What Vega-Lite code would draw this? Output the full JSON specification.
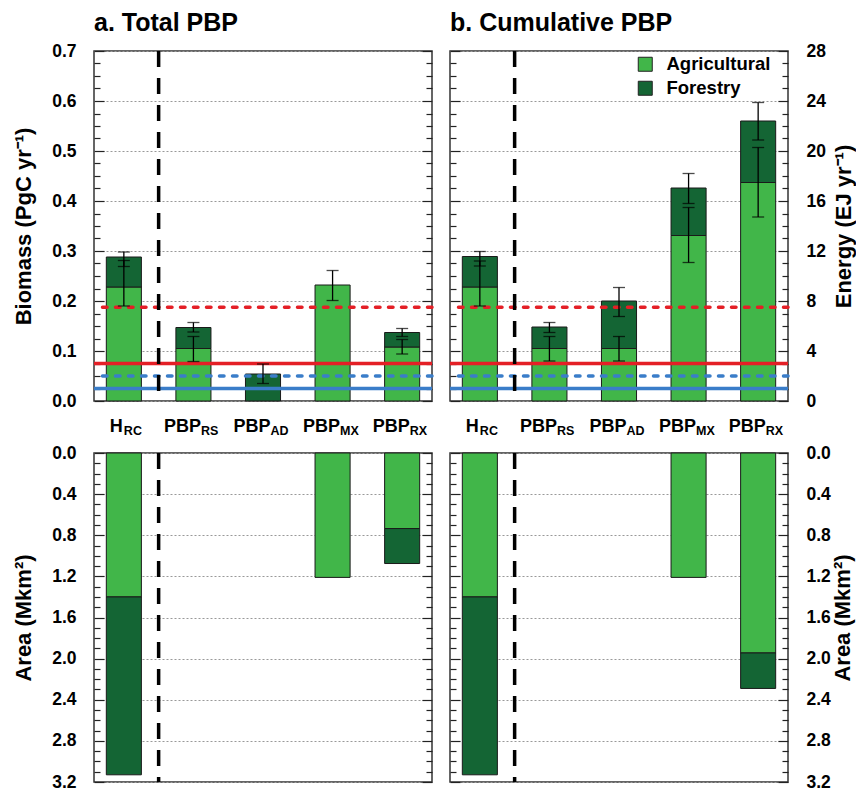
{
  "$schema": "https://vega.github.io/schema/vega-lite/v6.json",
  "background": "white",
  "padding": {"left": 11, "top": 10, "right": 0, "bottom": 0},
  "config": {
    "font": "Liberation Sans",
    "view": {"stroke": "#333", "strokeWidth": 1.5},
    "axis": {"domain": false, "tickColor": "#222", "tickWidth": 1.2, "labelFont": "Liberation Sans", "labelFontSize": 17.5, "labelFontWeight": "bold", "labelColor": "black", "labelPadding": 28, "labelOverlap": false, "labelFlush": false, "titleFont": "Liberation Sans", "titleFontSize": 22, "titleFontWeight": "bold", "titleColor": "black", "gridColor": "#999", "gridDash": [2, 2], "gridWidth": 1}
  },
  "datasets": {
    "bars": [
      {"panel": "total", "cat": "H_RC", "type": "Agricultural", "lo": 0, "hi": 0.228},
      {"panel": "total", "cat": "H_RC", "type": "Forestry", "lo": 0.228, "hi": 0.288},
      {"panel": "total", "cat": "PBP_RS", "type": "Agricultural", "lo": 0, "hi": 0.105},
      {"panel": "total", "cat": "PBP_RS", "type": "Forestry", "lo": 0.105, "hi": 0.147},
      {"panel": "total", "cat": "PBP_AD", "type": "Forestry", "lo": 0, "hi": 0.054},
      {"panel": "total", "cat": "PBP_MX", "type": "Agricultural", "lo": 0, "hi": 0.232},
      {"panel": "total", "cat": "PBP_RX", "type": "Agricultural", "lo": 0, "hi": 0.108},
      {"panel": "total", "cat": "PBP_RX", "type": "Forestry", "lo": 0.108, "hi": 0.137},
      {"panel": "cumulative", "cat": "H_RC", "type": "Agricultural", "lo": 0, "hi": 0.228},
      {"panel": "cumulative", "cat": "H_RC", "type": "Forestry", "lo": 0.228, "hi": 0.289},
      {"panel": "cumulative", "cat": "PBP_RS", "type": "Agricultural", "lo": 0, "hi": 0.105},
      {"panel": "cumulative", "cat": "PBP_RS", "type": "Forestry", "lo": 0.105, "hi": 0.148},
      {"panel": "cumulative", "cat": "PBP_AD", "type": "Agricultural", "lo": 0, "hi": 0.105},
      {"panel": "cumulative", "cat": "PBP_AD", "type": "Forestry", "lo": 0.105, "hi": 0.2},
      {"panel": "cumulative", "cat": "PBP_MX", "type": "Agricultural", "lo": 0, "hi": 0.331},
      {"panel": "cumulative", "cat": "PBP_MX", "type": "Forestry", "lo": 0.331, "hi": 0.426},
      {"panel": "cumulative", "cat": "PBP_RX", "type": "Agricultural", "lo": 0, "hi": 0.437},
      {"panel": "cumulative", "cat": "PBP_RX", "type": "Forestry", "lo": 0.437, "hi": 0.56}
    ],
    "area": [
      {"panel": "total", "cat": "H_RC", "type": "Agricultural", "lo": 0, "hi": 1.4},
      {"panel": "total", "cat": "H_RC", "type": "Forestry", "lo": 1.4, "hi": 3.13},
      {"panel": "total", "cat": "PBP_MX", "type": "Agricultural", "lo": 0, "hi": 1.21},
      {"panel": "total", "cat": "PBP_RX", "type": "Agricultural", "lo": 0, "hi": 0.735},
      {"panel": "total", "cat": "PBP_RX", "type": "Forestry", "lo": 0.735, "hi": 1.075},
      {"panel": "cumulative", "cat": "H_RC", "type": "Agricultural", "lo": 0, "hi": 1.4},
      {"panel": "cumulative", "cat": "H_RC", "type": "Forestry", "lo": 1.4, "hi": 3.13},
      {"panel": "cumulative", "cat": "PBP_MX", "type": "Agricultural", "lo": 0, "hi": 1.21},
      {"panel": "cumulative", "cat": "PBP_RX", "type": "Agricultural", "lo": 0, "hi": 1.945},
      {"panel": "cumulative", "cat": "PBP_RX", "type": "Forestry", "lo": 1.945, "hi": 2.29}
    ],
    "errors": [
      {"panel": "total", "cat": "H_RC", "type": "Agricultural", "lo": 0.19, "hi": 0.281},
      {"panel": "total", "cat": "H_RC", "type": "Forestry", "lo": 0.269, "hi": 0.298},
      {"panel": "total", "cat": "PBP_RS", "type": "Agricultural", "lo": 0.079, "hi": 0.129},
      {"panel": "total", "cat": "PBP_RS", "type": "Forestry", "lo": 0.138, "hi": 0.157},
      {"panel": "total", "cat": "PBP_AD", "type": "Forestry", "lo": 0.035, "hi": 0.074},
      {"panel": "total", "cat": "PBP_MX", "type": "Agricultural", "lo": 0.201, "hi": 0.261},
      {"panel": "total", "cat": "PBP_RX", "type": "Agricultural", "lo": 0.094, "hi": 0.123},
      {"panel": "total", "cat": "PBP_RX", "type": "Forestry", "lo": 0.129, "hi": 0.145},
      {"panel": "cumulative", "cat": "H_RC", "type": "Agricultural", "lo": 0.19, "hi": 0.28},
      {"panel": "cumulative", "cat": "H_RC", "type": "Forestry", "lo": 0.27, "hi": 0.299},
      {"panel": "cumulative", "cat": "PBP_RS", "type": "Agricultural", "lo": 0.08, "hi": 0.129},
      {"panel": "cumulative", "cat": "PBP_RS", "type": "Forestry", "lo": 0.137, "hi": 0.157},
      {"panel": "cumulative", "cat": "PBP_AD", "type": "Agricultural", "lo": 0.08, "hi": 0.129},
      {"panel": "cumulative", "cat": "PBP_AD", "type": "Forestry", "lo": 0.169, "hi": 0.227},
      {"panel": "cumulative", "cat": "PBP_MX", "type": "Agricultural", "lo": 0.277, "hi": 0.387},
      {"panel": "cumulative", "cat": "PBP_MX", "type": "Forestry", "lo": 0.395, "hi": 0.455},
      {"panel": "cumulative", "cat": "PBP_RX", "type": "Agricultural", "lo": 0.368, "hi": 0.507},
      {"panel": "cumulative", "cat": "PBP_RX", "type": "Forestry", "lo": 0.522, "hi": 0.597}
    ],
    "refs": [
      {"ref": "ref1", "value": 0.075},
      {"ref": "ref2", "value": 0.1875},
      {"ref": "ref3", "value": 0.05},
      {"ref": "ref4", "value": 0.025}
    ],
    "labels": [
      {"cat": "H_RC", "main": "H", "sub": "RC"},
      {"cat": "PBP_RS", "main": "PBP", "sub": "RS"},
      {"cat": "PBP_AD", "main": "PBP", "sub": "AD"},
      {"cat": "PBP_MX", "main": "PBP", "sub": "MX"},
      {"cat": "PBP_RX", "main": "PBP", "sub": "RX"}
    ]
  },
  "bounds": "flush",
  "columns": 2,
  "spacing": {"row": 52, "column": 18},
  "resolve": {"scale": {"color": "independent"}},
  "concat": [
    {
      "width": 338, "height": 350,
      "title": {"text": "a. Total PBP", "anchor": "start", "frame": "group", "fontSize": 25, "fontWeight": "bold", "font": "Liberation Sans", "baseline": "alphabetic", "offset": -14},
      "resolve": {"scale": {"y": "independent"}},
      "layer": [
        {
          "data": {"name": "bars"},
          "transform": [{"filter": "datum.panel === 'total' && datum.type === 'Agricultural'"}],
          "mark": {"type": "bar", "stroke": "#1a1a1a", "strokeWidth": 1},
          "encoding": {
            "x": {"field": "cat", "type": "nominal", "scale": {"type": "band", "domain": ["H_RC", "PBP_RS", "PBP_AD", "PBP_MX", "PBP_RX"], "paddingInner": 0.496, "paddingOuter": 0.177}, "axis": null},
            "y": {"field": "lo", "type": "quantitative", "scale": {"domain": [0, 0.7], "nice": false, "zero": false},
              "axis": {"orient": "left", "values": [0,0.025,0.05,0.075,0.1,0.125,0.15,0.175,0.2,0.225,0.25,0.275,0.3,0.325,0.35,0.375,0.4,0.425,0.45,0.475,0.5,0.525,0.55,0.575,0.6,0.625,0.65,0.675,0.7],
                "labelExpr": "abs(datum.value*10 - round(datum.value*10)) < 0.001 ? format(datum.value, '.1f') : ''",
                "tickSize": {"condition": {"test": "abs(datum.value*10 - round(datum.value*10)) < 0.001", "value": -10}, "value": -6},
                "grid": true,
                "gridOpacity": {"condition": {"test": "abs(datum.value*10 - round(datum.value*10)) < 0.001", "value": 1}, "value": 0},
                "title": "Biomass (PgC yr⁻¹)", "titlePadding": 16}},
            "y2": {"field": "hi"},
            "color": {"field": "type", "type": "nominal", "scale": {"domain": ["Agricultural", "Forestry"], "range": ["#41b649", "#146534"]}, "legend": null}
          }
        },
        {
          "data": {"name": "bars"},
          "transform": [{"filter": "datum.panel === 'total' && datum.type === 'Forestry'"}],
          "mark": {"type": "bar", "stroke": "#1a1a1a", "strokeWidth": 1},
          "encoding": {
            "x": {"field": "cat", "type": "nominal", "scale": {"type": "band", "domain": ["H_RC", "PBP_RS", "PBP_AD", "PBP_MX", "PBP_RX"], "paddingInner": 0.496, "paddingOuter": 0.177}, "axis": null},
            "y": {"field": "lo", "type": "quantitative", "scale": {"domain": [0, 0.7], "nice": false, "zero": false},
              "axis": {"orient": "right", "values": [0,0.025,0.05,0.075,0.1,0.125,0.15,0.175,0.2,0.225,0.25,0.275,0.3,0.325,0.35,0.375,0.4,0.425,0.45,0.475,0.5,0.525,0.55,0.575,0.6,0.625,0.65,0.675,0.7],
                "labels": false, "grid": false, "title": null,
                "tickSize": {"condition": {"test": "abs(datum.value*10 - round(datum.value*10)) < 0.001", "value": -10}, "value": -6}}},
            "y2": {"field": "hi"},
            "color": {"field": "type", "type": "nominal", "scale": {"domain": ["Agricultural", "Forestry"], "range": ["#41b649", "#146534"]}, "legend": null}
          }
        },
        {
          "layer": [
            {
              "data": {"name": "refs"},
              "transform": [{"filter": "datum.ref === 'ref1' || datum.ref === 'ref4'"}],
              "mark": {"type": "rule", "strokeWidth": 3.5},
              "encoding": {
                "y": {"field": "value", "type": "quantitative", "scale": {"domain": [0, 0.7], "nice": false, "zero": false}, "axis": null},
                "stroke": {"field": "ref", "type": "nominal", "scale": {"domain": ["ref1", "ref2", "ref3", "ref4"], "range": ["#e41f26", "#e41f26", "#3a7dc9", "#3a7dc9"]}, "legend": null}
              }
            },
            {
              "data": {"name": "refs"},
              "transform": [{"filter": "datum.ref === 'ref2' || datum.ref === 'ref3'"}],
              "mark": {"type": "rule", "strokeWidth": 3.5, "strokeDash": [4.5, 8.5], "strokeCap": "round"},
              "encoding": {
                "y": {"field": "value", "type": "quantitative", "scale": {"domain": [0, 0.7], "nice": false, "zero": false}, "axis": null},
                "stroke": {"field": "ref", "type": "nominal", "scale": {"domain": ["ref1", "ref2", "ref3", "ref4"], "range": ["#e41f26", "#e41f26", "#3a7dc9", "#3a7dc9"]}, "legend": null}
              }
            },
            {
              "data": {"name": "errors"},
              "transform": [{"filter": "datum.panel === 'total'"}],
              "mark": {"type": "rule", "color": "black", "strokeWidth": 1.3},
              "encoding": {
                "x": {"field": "cat", "type": "nominal", "scale": {"type": "band", "domain": ["H_RC", "PBP_RS", "PBP_AD", "PBP_MX", "PBP_RX"], "paddingInner": 0.496, "paddingOuter": 0.177}, "axis": null},
                "y": {"field": "lo", "type": "quantitative", "scale": {"domain": [0, 0.7], "nice": false, "zero": false}, "axis": null},
                "y2": {"field": "hi"}
              }
            },
            {
              "data": {"name": "errors"},
              "transform": [{"filter": "datum.panel === 'total'"}],
              "mark": {"type": "tick", "color": "black", "size": 12, "thickness": 1.3},
              "encoding": {
                "x": {"field": "cat", "type": "nominal", "scale": {"type": "band", "domain": ["H_RC", "PBP_RS", "PBP_AD", "PBP_MX", "PBP_RX"], "paddingInner": 0.496, "paddingOuter": 0.177}, "axis": null},
                "y": {"field": "lo", "type": "quantitative", "scale": {"domain": [0, 0.7], "nice": false, "zero": false}, "axis": null}
              }
            },
            {
              "data": {"name": "errors"},
              "transform": [{"filter": "datum.panel === 'total'"}],
              "mark": {"type": "tick", "color": "black", "size": 12, "thickness": 1.3},
              "encoding": {
                "x": {"field": "cat", "type": "nominal", "scale": {"type": "band", "domain": ["H_RC", "PBP_RS", "PBP_AD", "PBP_MX", "PBP_RX"], "paddingInner": 0.496, "paddingOuter": 0.177}, "axis": null},
                "y": {"field": "hi", "type": "quantitative", "scale": {"domain": [0, 0.7], "nice": false, "zero": false}, "axis": null}
              }
            },
            {
              "data": {"name": "labels"},
              "transform": [{"filter": "datum.cat === 'H_RC'"}],
              "mark": {"type": "rule", "color": "black", "strokeWidth": 3.5, "strokeDash": [16, 11], "xOffset": 17.25},
              "encoding": {
                "x": {"field": "cat", "type": "nominal", "bandPosition": 1, "scale": {"type": "band", "domain": ["H_RC", "PBP_RS", "PBP_AD", "PBP_MX", "PBP_RX"], "paddingInner": 0.496, "paddingOuter": 0.177}, "axis": null}
              }
            },
            {
              "data": {"name": "labels"},
              "transform": [{"filter": "datum.main === 'H'"}],
              "mark": {"type": "text", "align": "right", "baseline": "alphabetic", "dx": -1, "fontSize": 18, "fontWeight": "bold", "color": "black"},
              "encoding": {
                "x": {"field": "cat", "type": "nominal", "scale": {"type": "band", "domain": ["H_RC", "PBP_RS", "PBP_AD", "PBP_MX", "PBP_RX"], "paddingInner": 0.496, "paddingOuter": 0.177}, "axis": null},
                "y": {"datum": -0.062, "type": "quantitative", "scale": {"domain": [0, 0.7], "nice": false, "zero": false}, "axis": null},
                "text": {"field": "main"}
              }
            },
            {
              "data": {"name": "labels"},
              "transform": [{"filter": "datum.main === 'PBP'"}],
              "mark": {"type": "text", "align": "right", "baseline": "alphabetic", "dx": 7.5, "fontSize": 18, "fontWeight": "bold", "color": "black"},
              "encoding": {
                "x": {"field": "cat", "type": "nominal", "scale": {"type": "band", "domain": ["H_RC", "PBP_RS", "PBP_AD", "PBP_MX", "PBP_RX"], "paddingInner": 0.496, "paddingOuter": 0.177}, "axis": null},
                "y": {"datum": -0.062, "type": "quantitative", "scale": {"domain": [0, 0.7], "nice": false, "zero": false}, "axis": null},
                "text": {"field": "main"}
              }
            },
            {
              "data": {"name": "labels"},
              "transform": [{"filter": "datum.main === 'H'"}],
              "mark": {"type": "text", "align": "left", "baseline": "alphabetic", "dx": 0, "fontSize": 12.5, "fontWeight": "bold", "color": "black"},
              "encoding": {
                "x": {"field": "cat", "type": "nominal", "scale": {"type": "band", "domain": ["H_RC", "PBP_RS", "PBP_AD", "PBP_MX", "PBP_RX"], "paddingInner": 0.496, "paddingOuter": 0.177}, "axis": null},
                "y": {"datum": -0.068, "type": "quantitative", "scale": {"domain": [0, 0.7], "nice": false, "zero": false}, "axis": null},
                "text": {"field": "sub"}
              }
            },
            {
              "data": {"name": "labels"},
              "transform": [{"filter": "datum.main === 'PBP'"}],
              "mark": {"type": "text", "align": "left", "baseline": "alphabetic", "dx": 7.5, "fontSize": 12.5, "fontWeight": "bold", "color": "black"},
              "encoding": {
                "x": {"field": "cat", "type": "nominal", "scale": {"type": "band", "domain": ["H_RC", "PBP_RS", "PBP_AD", "PBP_MX", "PBP_RX"], "paddingInner": 0.496, "paddingOuter": 0.177}, "axis": null},
                "y": {"datum": -0.068, "type": "quantitative", "scale": {"domain": [0, 0.7], "nice": false, "zero": false}, "axis": null},
                "text": {"field": "sub"}
              }
            }
          ]
        }
      ]
    },
    {
      "width": 338, "height": 350,
      "title": {"text": "b. Cumulative PBP", "anchor": "start", "frame": "group", "fontSize": 25, "fontWeight": "bold", "font": "Liberation Sans", "baseline": "alphabetic", "offset": -14},
      "resolve": {"scale": {"y": "independent"}},
      "layer": [
        {
          "data": {"name": "bars"},
          "transform": [{"filter": "datum.panel === 'cumulative' && datum.type === 'Agricultural'"}],
          "mark": {"type": "bar", "stroke": "#1a1a1a", "strokeWidth": 1},
          "encoding": {
            "x": {"field": "cat", "type": "nominal", "scale": {"type": "band", "domain": ["H_RC", "PBP_RS", "PBP_AD", "PBP_MX", "PBP_RX"], "paddingInner": 0.496, "paddingOuter": 0.177}, "axis": null},
            "y": {"field": "lo", "type": "quantitative", "scale": {"domain": [0, 0.7], "nice": false, "zero": false},
              "axis": {"orient": "left", "values": [0,0.025,0.05,0.075,0.1,0.125,0.15,0.175,0.2,0.225,0.25,0.275,0.3,0.325,0.35,0.375,0.4,0.425,0.45,0.475,0.5,0.525,0.55,0.575,0.6,0.625,0.65,0.675,0.7],
                "labels": false, "title": null,
                "tickSize": {"condition": {"test": "abs(datum.value*10 - round(datum.value*10)) < 0.001", "value": -10}, "value": -6},
                "grid": true,
                "gridOpacity": {"condition": {"test": "abs(datum.value*10 - round(datum.value*10)) < 0.001", "value": 1}, "value": 0}}},
            "y2": {"field": "hi"},
            "color": {"field": "type", "type": "nominal", "scale": {"domain": ["Agricultural", "Forestry"], "range": ["#41b649", "#146534"]},
              "legend": {"title": null, "orient": "none", "legendX": 186, "legendY": 4, "symbolType": "square", "symbolSize": 196, "symbolStrokeColor": "#222", "symbolStrokeWidth": 1, "symbolOpacity": 1, "labelFont": "Liberation Sans", "labelFontSize": 18.5, "labelFontWeight": "bold", "labelColor": "black", "labelOffset": 12, "rowPadding": 5, "padding": 0}}
          }
        },
        {
          "data": {"name": "bars"},
          "transform": [{"filter": "datum.panel === 'cumulative' && datum.type === 'Forestry'"}],
          "mark": {"type": "bar", "stroke": "#1a1a1a", "strokeWidth": 1},
          "encoding": {
            "x": {"field": "cat", "type": "nominal", "scale": {"type": "band", "domain": ["H_RC", "PBP_RS", "PBP_AD", "PBP_MX", "PBP_RX"], "paddingInner": 0.496, "paddingOuter": 0.177}, "axis": null},
            "y": {"field": "lo", "type": "quantitative", "scale": {"domain": [0, 0.7], "nice": false, "zero": false},
              "axis": {"orient": "right", "values": [0,0.025,0.05,0.075,0.1,0.125,0.15,0.175,0.2,0.225,0.25,0.275,0.3,0.325,0.35,0.375,0.4,0.425,0.45,0.475,0.5,0.525,0.55,0.575,0.6,0.625,0.65,0.675,0.7],
                "labelExpr": "abs(datum.value*10 - round(datum.value*10)) < 0.001 ? format(datum.value*40, 'd') : ''",
                "grid": false,
                "tickSize": {"condition": {"test": "abs(datum.value*10 - round(datum.value*10)) < 0.001", "value": -10}, "value": -6},
                "title": "Energy (EJ yr⁻¹)", "titleAngle": 270, "titleBaseline": "top", "titlePadding": 8}},
            "y2": {"field": "hi"},
            "color": {"field": "type", "type": "nominal", "scale": {"domain": ["Agricultural", "Forestry"], "range": ["#41b649", "#146534"]},
              "legend": {"title": null, "orient": "none", "legendX": 186, "legendY": 4, "symbolType": "square", "symbolSize": 196, "symbolStrokeColor": "#222", "symbolStrokeWidth": 1, "symbolOpacity": 1, "labelFont": "Liberation Sans", "labelFontSize": 18.5, "labelFontWeight": "bold", "labelColor": "black", "labelOffset": 12, "rowPadding": 5, "padding": 0}}
          }
        },
        {
          "layer": [
            {
              "data": {"name": "refs"},
              "transform": [{"filter": "datum.ref === 'ref1' || datum.ref === 'ref4'"}],
              "mark": {"type": "rule", "strokeWidth": 3.5},
              "encoding": {
                "y": {"field": "value", "type": "quantitative", "scale": {"domain": [0, 0.7], "nice": false, "zero": false}, "axis": null},
                "stroke": {"field": "ref", "type": "nominal", "scale": {"domain": ["ref1", "ref2", "ref3", "ref4"], "range": ["#e41f26", "#e41f26", "#3a7dc9", "#3a7dc9"]}, "legend": null}
              }
            },
            {
              "data": {"name": "refs"},
              "transform": [{"filter": "datum.ref === 'ref2' || datum.ref === 'ref3'"}],
              "mark": {"type": "rule", "strokeWidth": 3.5, "strokeDash": [4.5, 8.5], "strokeCap": "round"},
              "encoding": {
                "y": {"field": "value", "type": "quantitative", "scale": {"domain": [0, 0.7], "nice": false, "zero": false}, "axis": null},
                "stroke": {"field": "ref", "type": "nominal", "scale": {"domain": ["ref1", "ref2", "ref3", "ref4"], "range": ["#e41f26", "#e41f26", "#3a7dc9", "#3a7dc9"]}, "legend": null}
              }
            },
            {
              "data": {"name": "errors"},
              "transform": [{"filter": "datum.panel === 'cumulative'"}],
              "mark": {"type": "rule", "color": "black", "strokeWidth": 1.3},
              "encoding": {
                "x": {"field": "cat", "type": "nominal", "scale": {"type": "band", "domain": ["H_RC", "PBP_RS", "PBP_AD", "PBP_MX", "PBP_RX"], "paddingInner": 0.496, "paddingOuter": 0.177}, "axis": null},
                "y": {"field": "lo", "type": "quantitative", "scale": {"domain": [0, 0.7], "nice": false, "zero": false}, "axis": null},
                "y2": {"field": "hi"}
              }
            },
            {
              "data": {"name": "errors"},
              "transform": [{"filter": "datum.panel === 'cumulative'"}],
              "mark": {"type": "tick", "color": "black", "size": 12, "thickness": 1.3},
              "encoding": {
                "x": {"field": "cat", "type": "nominal", "scale": {"type": "band", "domain": ["H_RC", "PBP_RS", "PBP_AD", "PBP_MX", "PBP_RX"], "paddingInner": 0.496, "paddingOuter": 0.177}, "axis": null},
                "y": {"field": "lo", "type": "quantitative", "scale": {"domain": [0, 0.7], "nice": false, "zero": false}, "axis": null}
              }
            },
            {
              "data": {"name": "errors"},
              "transform": [{"filter": "datum.panel === 'cumulative'"}],
              "mark": {"type": "tick", "color": "black", "size": 12, "thickness": 1.3},
              "encoding": {
                "x": {"field": "cat", "type": "nominal", "scale": {"type": "band", "domain": ["H_RC", "PBP_RS", "PBP_AD", "PBP_MX", "PBP_RX"], "paddingInner": 0.496, "paddingOuter": 0.177}, "axis": null},
                "y": {"field": "hi", "type": "quantitative", "scale": {"domain": [0, 0.7], "nice": false, "zero": false}, "axis": null}
              }
            },
            {
              "data": {"name": "labels"},
              "transform": [{"filter": "datum.cat === 'H_RC'"}],
              "mark": {"type": "rule", "color": "black", "strokeWidth": 3.5, "strokeDash": [16, 11], "xOffset": 17.25},
              "encoding": {
                "x": {"field": "cat", "type": "nominal", "bandPosition": 1, "scale": {"type": "band", "domain": ["H_RC", "PBP_RS", "PBP_AD", "PBP_MX", "PBP_RX"], "paddingInner": 0.496, "paddingOuter": 0.177}, "axis": null}
              }
            },
            {
              "data": {"name": "labels"},
              "transform": [{"filter": "datum.main === 'H'"}],
              "mark": {"type": "text", "align": "right", "baseline": "alphabetic", "dx": -1, "fontSize": 18, "fontWeight": "bold", "color": "black"},
              "encoding": {
                "x": {"field": "cat", "type": "nominal", "scale": {"type": "band", "domain": ["H_RC", "PBP_RS", "PBP_AD", "PBP_MX", "PBP_RX"], "paddingInner": 0.496, "paddingOuter": 0.177}, "axis": null},
                "y": {"datum": -0.062, "type": "quantitative", "scale": {"domain": [0, 0.7], "nice": false, "zero": false}, "axis": null},
                "text": {"field": "main"}
              }
            },
            {
              "data": {"name": "labels"},
              "transform": [{"filter": "datum.main === 'PBP'"}],
              "mark": {"type": "text", "align": "right", "baseline": "alphabetic", "dx": 7.5, "fontSize": 18, "fontWeight": "bold", "color": "black"},
              "encoding": {
                "x": {"field": "cat", "type": "nominal", "scale": {"type": "band", "domain": ["H_RC", "PBP_RS", "PBP_AD", "PBP_MX", "PBP_RX"], "paddingInner": 0.496, "paddingOuter": 0.177}, "axis": null},
                "y": {"datum": -0.062, "type": "quantitative", "scale": {"domain": [0, 0.7], "nice": false, "zero": false}, "axis": null},
                "text": {"field": "main"}
              }
            },
            {
              "data": {"name": "labels"},
              "transform": [{"filter": "datum.main === 'H'"}],
              "mark": {"type": "text", "align": "left", "baseline": "alphabetic", "dx": 0, "fontSize": 12.5, "fontWeight": "bold", "color": "black"},
              "encoding": {
                "x": {"field": "cat", "type": "nominal", "scale": {"type": "band", "domain": ["H_RC", "PBP_RS", "PBP_AD", "PBP_MX", "PBP_RX"], "paddingInner": 0.496, "paddingOuter": 0.177}, "axis": null},
                "y": {"datum": -0.068, "type": "quantitative", "scale": {"domain": [0, 0.7], "nice": false, "zero": false}, "axis": null},
                "text": {"field": "sub"}
              }
            },
            {
              "data": {"name": "labels"},
              "transform": [{"filter": "datum.main === 'PBP'"}],
              "mark": {"type": "text", "align": "left", "baseline": "alphabetic", "dx": 7.5, "fontSize": 12.5, "fontWeight": "bold", "color": "black"},
              "encoding": {
                "x": {"field": "cat", "type": "nominal", "scale": {"type": "band", "domain": ["H_RC", "PBP_RS", "PBP_AD", "PBP_MX", "PBP_RX"], "paddingInner": 0.496, "paddingOuter": 0.177}, "axis": null},
                "y": {"datum": -0.068, "type": "quantitative", "scale": {"domain": [0, 0.7], "nice": false, "zero": false}, "axis": null},
                "text": {"field": "sub"}
              }
            }
          ]
        }
      ]
    },
    {
      "width": 338, "height": 329,
      "resolve": {"scale": {"y": "independent"}},
      "layer": [
        {
          "data": {"name": "area"},
          "transform": [{"filter": "datum.panel === 'total' && datum.type === 'Agricultural'"}],
          "mark": {"type": "bar", "stroke": "#1a1a1a", "strokeWidth": 1},
          "encoding": {
            "x": {"field": "cat", "type": "nominal", "scale": {"type": "band", "domain": ["H_RC", "PBP_RS", "PBP_AD", "PBP_MX", "PBP_RX"], "paddingInner": 0.496, "paddingOuter": 0.177}, "axis": null},
            "y": {"field": "lo", "type": "quantitative", "scale": {"domain": [0, 3.2], "reverse": true, "nice": false, "zero": false},
              "axis": {"orient": "left", "values": [0,0.1,0.2,0.3,0.4,0.5,0.6,0.7,0.8,0.9,1,1.1,1.2,1.3,1.4,1.5,1.6,1.7,1.8,1.9,2,2.1,2.2,2.3,2.4,2.5,2.6,2.7,2.8,2.9,3,3.1,3.2],
                "labelExpr": "abs(datum.value*2.5 - round(datum.value*2.5)) < 0.001 ? format(datum.value, '.1f') : ''",
                "tickSize": {"condition": {"test": "abs(datum.value*2.5 - round(datum.value*2.5)) < 0.001", "value": -10}, "value": -6},
                "grid": true,
                "gridOpacity": {"condition": {"test": "abs(datum.value*2.5 - round(datum.value*2.5)) < 0.001", "value": 1}, "value": 0},
                "title": "Area (Mkm²)", "titlePadding": 16}},
            "y2": {"field": "hi"},
            "color": {"field": "type", "type": "nominal", "scale": {"domain": ["Agricultural", "Forestry"], "range": ["#41b649", "#146534"]}, "legend": null}
          }
        },
        {
          "data": {"name": "area"},
          "transform": [{"filter": "datum.panel === 'total' && datum.type === 'Forestry'"}],
          "mark": {"type": "bar", "stroke": "#1a1a1a", "strokeWidth": 1},
          "encoding": {
            "x": {"field": "cat", "type": "nominal", "scale": {"type": "band", "domain": ["H_RC", "PBP_RS", "PBP_AD", "PBP_MX", "PBP_RX"], "paddingInner": 0.496, "paddingOuter": 0.177}, "axis": null},
            "y": {"field": "lo", "type": "quantitative", "scale": {"domain": [0, 3.2], "reverse": true, "nice": false, "zero": false},
              "axis": {"orient": "right", "values": [0,0.1,0.2,0.3,0.4,0.5,0.6,0.7,0.8,0.9,1,1.1,1.2,1.3,1.4,1.5,1.6,1.7,1.8,1.9,2,2.1,2.2,2.3,2.4,2.5,2.6,2.7,2.8,2.9,3,3.1,3.2],
                "labels": false, "grid": false, "title": null,
                "tickSize": {"condition": {"test": "abs(datum.value*2.5 - round(datum.value*2.5)) < 0.001", "value": -10}, "value": -6}}},
            "y2": {"field": "hi"},
            "color": {"field": "type", "type": "nominal", "scale": {"domain": ["Agricultural", "Forestry"], "range": ["#41b649", "#146534"]}, "legend": null}
          }
        },
        {
          "data": {"name": "labels"},
          "transform": [{"filter": "datum.cat === 'H_RC'"}],
          "mark": {"type": "rule", "color": "black", "strokeWidth": 3.5, "strokeDash": [16, 11], "xOffset": 17.25},
          "encoding": {
            "x": {"field": "cat", "type": "nominal", "bandPosition": 1, "scale": {"type": "band", "domain": ["H_RC", "PBP_RS", "PBP_AD", "PBP_MX", "PBP_RX"], "paddingInner": 0.496, "paddingOuter": 0.177}, "axis": null}
          }
        }
      ]
    },
    {
      "width": 338, "height": 329,
      "resolve": {"scale": {"y": "independent"}},
      "layer": [
        {
          "data": {"name": "area"},
          "transform": [{"filter": "datum.panel === 'cumulative' && datum.type === 'Agricultural'"}],
          "mark": {"type": "bar", "stroke": "#1a1a1a", "strokeWidth": 1},
          "encoding": {
            "x": {"field": "cat", "type": "nominal", "scale": {"type": "band", "domain": ["H_RC", "PBP_RS", "PBP_AD", "PBP_MX", "PBP_RX"], "paddingInner": 0.496, "paddingOuter": 0.177}, "axis": null},
            "y": {"field": "lo", "type": "quantitative", "scale": {"domain": [0, 3.2], "reverse": true, "nice": false, "zero": false},
              "axis": {"orient": "left", "values": [0,0.1,0.2,0.3,0.4,0.5,0.6,0.7,0.8,0.9,1,1.1,1.2,1.3,1.4,1.5,1.6,1.7,1.8,1.9,2,2.1,2.2,2.3,2.4,2.5,2.6,2.7,2.8,2.9,3,3.1,3.2],
                "labels": false, "title": null,
                "tickSize": {"condition": {"test": "abs(datum.value*2.5 - round(datum.value*2.5)) < 0.001", "value": -10}, "value": -6},
                "grid": true,
                "gridOpacity": {"condition": {"test": "abs(datum.value*2.5 - round(datum.value*2.5)) < 0.001", "value": 1}, "value": 0}}},
            "y2": {"field": "hi"},
            "color": {"field": "type", "type": "nominal", "scale": {"domain": ["Agricultural", "Forestry"], "range": ["#41b649", "#146534"]}, "legend": null}
          }
        },
        {
          "data": {"name": "area"},
          "transform": [{"filter": "datum.panel === 'cumulative' && datum.type === 'Forestry'"}],
          "mark": {"type": "bar", "stroke": "#1a1a1a", "strokeWidth": 1},
          "encoding": {
            "x": {"field": "cat", "type": "nominal", "scale": {"type": "band", "domain": ["H_RC", "PBP_RS", "PBP_AD", "PBP_MX", "PBP_RX"], "paddingInner": 0.496, "paddingOuter": 0.177}, "axis": null},
            "y": {"field": "lo", "type": "quantitative", "scale": {"domain": [0, 3.2], "reverse": true, "nice": false, "zero": false},
              "axis": {"orient": "right", "values": [0,0.1,0.2,0.3,0.4,0.5,0.6,0.7,0.8,0.9,1,1.1,1.2,1.3,1.4,1.5,1.6,1.7,1.8,1.9,2,2.1,2.2,2.3,2.4,2.5,2.6,2.7,2.8,2.9,3,3.1,3.2],
                "labelExpr": "abs(datum.value*2.5 - round(datum.value*2.5)) < 0.001 ? format(datum.value, '.1f') : ''",
                "grid": false,
                "tickSize": {"condition": {"test": "abs(datum.value*2.5 - round(datum.value*2.5)) < 0.001", "value": -10}, "value": -6},
                "title": "Area (Mkm²)", "titleAngle": 270, "titleBaseline": "top", "titlePadding": 2}},
            "y2": {"field": "hi"},
            "color": {"field": "type", "type": "nominal", "scale": {"domain": ["Agricultural", "Forestry"], "range": ["#41b649", "#146534"]}, "legend": null}
          }
        },
        {
          "data": {"name": "labels"},
          "transform": [{"filter": "datum.cat === 'H_RC'"}],
          "mark": {"type": "rule", "color": "black", "strokeWidth": 3.5, "strokeDash": [16, 11], "xOffset": 17.25},
          "encoding": {
            "x": {"field": "cat", "type": "nominal", "bandPosition": 1, "scale": {"type": "band", "domain": ["H_RC", "PBP_RS", "PBP_AD", "PBP_MX", "PBP_RX"], "paddingInner": 0.496, "paddingOuter": 0.177}, "axis": null}
          }
        }
      ]
    }
  ]
}
